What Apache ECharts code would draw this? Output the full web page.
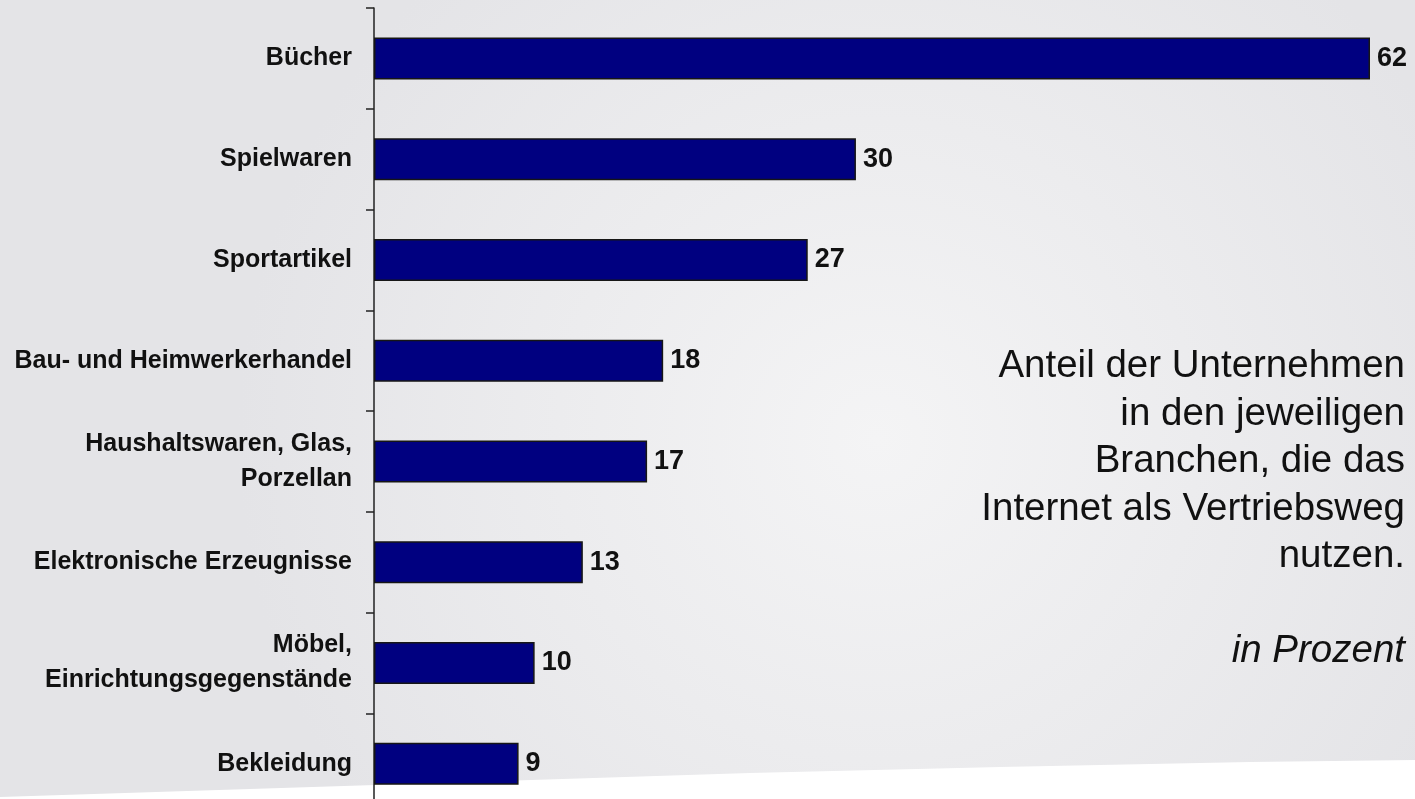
<!DOCTYPE html>
<html>
<head>
<meta charset="utf-8">
<title>Internet als Vertriebsweg</title>
<script src="https://cdn.jsdelivr.net/npm/echarts@6/dist/echarts.min.js"></script>
<style>
  html, body { margin: 0; padding: 0; background: #e8e8ea; }
  #chart { width: 1415px; height: 799px; }
</style>
</head>
<body>
<div id="chart"></div>
<script>
// Branchen (top to bottom) and share of companies selling online, in percent
const categories = [
  'Bücher',
  'Spielwaren',
  'Sportartikel',
  'Bau- und Heimwerkerhandel',
  'Haushaltswaren, Glas,\nPorzellan',
  'Elektronische Erzeugnisse',
  'Möbel,\nEinrichtungsgegenstände',
  'Bekleidung'
];
const shares = [62, 30, 27, 18, 17, 13, 10, 9];

const noteLines = [
  'Anteil der Unternehmen',
  'in den jeweiligen',
  'Branchen, die das',
  'Internet als Vertriebsweg',
  'nutzen.'
];
const unitNote = 'in Prozent';

const FONT = '"Liberation Sans", Arial, Helvetica, sans-serif';
const W = 1415, H = 799;

// white swoosh along the bottom edge of the slide
const swoosh = [[0, 797], [250, 789], [500, 781], [750, 773], [1000, 767], [1250, 762], [1415, 760], [1415, 799], [0, 799]];

const chart = echarts.init(document.getElementById('chart'), null, { renderer: 'canvas' });

chart.setOption({
  animation: false,
  backgroundColor: '#e8e8ea',
  graphic: [
    {
      type: 'rect', z: -10, silent: true,
      shape: { x: 0, y: 0, width: W, height: H },
      style: {
        fill: {
          type: 'radial', x: 0.62, y: 0.55, r: 0.8,
          colorStops: [
            { offset: 0, color: '#f4f4f5' },
            { offset: 1, color: '#e4e4e7' }
          ]
        }
      }
    },
    {
      type: 'polygon', z: -9, silent: true,
      shape: { points: swoosh },
      style: { fill: '#ffffff' }
    },
    {
      type: 'text', z: 10, silent: true,
      x: 1405, y: 343,
      style: {
        text: noteLines.join('\n'),
        font: '38.5px ' + FONT,
        fill: '#111111',
        textAlign: 'right',
        textVerticalAlign: 'top',
        lineHeight: 47.5
      }
    },
    {
      type: 'text', z: 10, silent: true,
      x: 1405, y: 628,
      style: {
        text: unitNote,
        font: 'italic 38.5px ' + FONT,
        fill: '#111111',
        textAlign: 'right',
        textVerticalAlign: 'top',
        lineHeight: 47.5
      }
    }
  ],
  grid: {
    left: 374,
    top: 8,
    width: 996,
    height: 806,
    containLabel: false,
    outerBoundsMode: 'none'
  },
  xAxis: {
    type: 'value',
    min: 0,
    max: 62,
    show: false
  },
  yAxis: {
    type: 'category',
    data: categories,
    inverse: true,
    axisLine: { show: true, lineStyle: { color: '#222222', width: 1.5 } },
    axisTick: { show: true, length: 8, lineStyle: { color: '#222222', width: 1.5 } },
    axisLabel: {
      margin: 22,
      color: '#111111',
      fontFamily: FONT,
      fontWeight: 'bold',
      fontSize: 25,
      lineHeight: 35,
      align: 'right',
      padding: [9, 0, 0, 0]
    },
    splitLine: { show: false }
  },
  series: [{
    type: 'bar',
    data: shares,
    barWidth: 42,
    itemStyle: {
      color: '#000080',
      borderColor: '#161616',
      borderWidth: 1.5
    },
    label: {
      show: true,
      position: 'right',
      distance: 7,
      color: '#111111',
      fontFamily: FONT,
      fontWeight: 'bold',
      fontSize: 27
    }
  }]
});
</script>
</body>
</html>
